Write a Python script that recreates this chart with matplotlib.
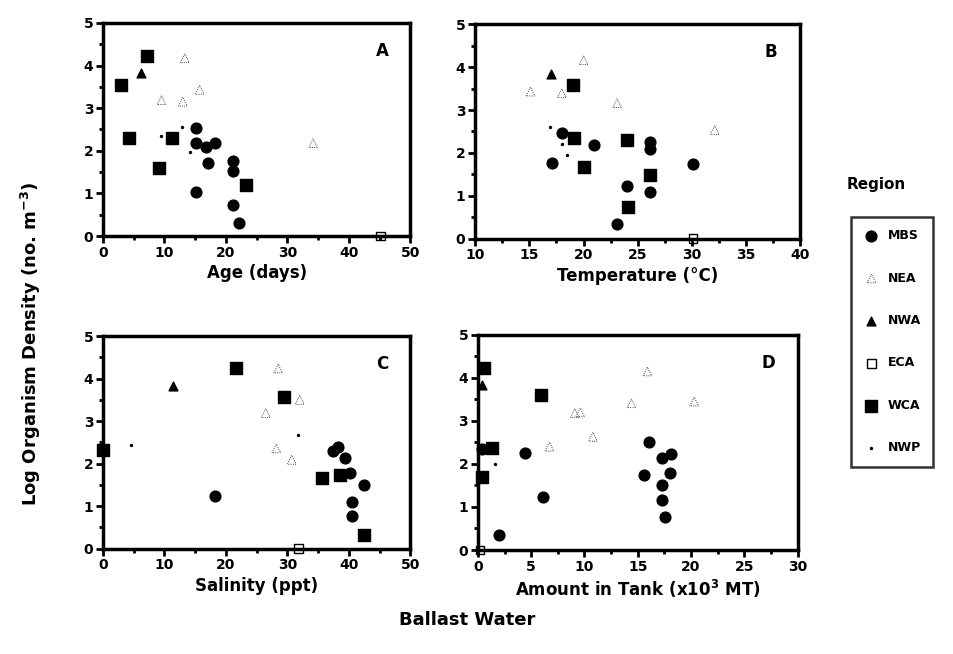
import matplotlib.pyplot as plt
from matplotlib.ticker import MultipleLocator

plt.rcParams['font.family'] = ['DejaVu Sans']
plt.rcParams['font.weight'] = 'bold'

# panel A: age (days)
age_mbs_x = [15.2, 15.1, 16.8, 18.2, 17.1, 21.2, 21.2, 15.1, 21.2, 22.1]
age_mbs_y = [2.53, 2.18, 2.10, 2.19, 1.71, 1.75, 1.52, 1.04, 0.73, 0.30]
age_nea_x = [13.3, 15.7, 9.5, 13.0, 34.2]
age_nea_y = [4.17, 3.43, 3.19, 3.15, 2.18]
age_nwa_x = [6.1]
age_nwa_y = [3.82]
age_eca_x = [45.1]
age_eca_y = [0.0]
age_wca_x = [7.1, 3.0, 4.2, 11.2, 9.1, 23.2]
age_wca_y = [4.23, 3.54, 2.29, 2.29, 1.59, 1.20]
age_nwp_x = [9.5, 12.8, 14.2]
age_nwp_y = [2.35, 2.57, 1.98]

# panel B: temperature (C)
tmp_mbs_x = [18.0, 21.0, 26.1, 26.1, 17.1, 30.1, 24.0, 26.1, 23.1]
tmp_mbs_y = [2.46, 2.19, 2.26, 2.10, 1.76, 1.74, 1.23, 1.10, 0.35]
tmp_nea_x = [20.0, 15.1, 18.0, 23.1, 32.1]
tmp_nea_y = [4.16, 3.43, 3.39, 3.16, 2.53]
tmp_nwa_x = [17.0]
tmp_nwa_y = [3.85]
tmp_eca_x = [30.1]
tmp_eca_y = [0.0]
tmp_wca_x = [19.0, 19.1, 24.0, 20.0, 26.1, 24.1]
tmp_wca_y = [3.58, 2.34, 2.30, 1.68, 1.49, 0.75]
tmp_nwp_x = [16.9, 18.0, 18.5]
tmp_nwp_y = [2.61, 2.20, 1.95]

# panel C: salinity (ppt)
sal_mbs_x = [38.3, 37.5, 39.4, 40.2, 42.4, 40.5, 40.5, 18.3]
sal_mbs_y = [2.40, 2.30, 2.13, 1.78, 1.50, 1.11, 0.76, 1.23]
sal_nea_x = [28.5, 26.5, 32.0, 28.2, 30.7]
sal_nea_y = [4.24, 3.19, 3.50, 2.36, 2.09]
sal_nwa_x = [11.4]
sal_nwa_y = [3.83]
sal_eca_x = [31.8]
sal_eca_y = [0.0]
sal_wca_x = [21.7, 29.4, 35.6, 38.6, 42.4, 0.0]
sal_wca_y = [4.24, 3.58, 1.66, 1.74, 0.33, 2.32]
sal_nwp_x = [4.6, 31.7]
sal_nwp_y = [2.44, 2.68]

# panel D: amount in tank (x10^3 MT)
amt_mbs_x = [4.4, 6.1, 16.1, 18.1, 17.3, 15.6, 18.0, 17.3, 17.3, 17.6, 2.0, 0.4]
amt_mbs_y = [2.25, 1.24, 2.52, 2.23, 2.13, 1.74, 1.78, 1.51, 1.16, 0.77, 0.35, 2.35]
amt_nea_x = [15.9, 14.4, 20.3, 9.1, 9.6, 6.7, 10.8]
amt_nea_y = [4.15, 3.41, 3.45, 3.18, 3.20, 2.40, 2.63]
amt_nwa_x = [0.4]
amt_nwa_y = [3.84]
amt_eca_x = [0.2]
amt_eca_y = [0.0]
amt_wca_x = [5.9, 0.6, 1.3, 0.4]
amt_wca_y = [3.60, 4.23, 2.37, 1.70]
amt_nwp_x = [1.6]
amt_nwp_y = [2.0]

regions = ['MBS', 'NEA', 'NWA', 'ECA', 'WCA', 'NWP']
styles = {
    'MBS': dict(marker='o', s=60, c='black', edgecolors='black'),
    'NEA': dict(marker='^', s=40, facecolors='none', edgecolors='black', linewidths=0.6, linestyles=':'),
    'NWA': dict(marker='^', s=40, c='black'),
    'ECA': dict(marker='s', s=40, facecolors='none', edgecolors='black', linewidths=1.0),
    'WCA': dict(marker='s', s=80, c='black'),
    'NWP': dict(marker='.', s=8, c='black'),
}

panels = [
    ('A', 'Age (days)', (0, 50), 10, 5, [0.108, 0.639, 0.322, 0.326],
     [(age_mbs_x, age_mbs_y), (age_nea_x, age_nea_y), (age_nwa_x, age_nwa_y),
      (age_eca_x, age_eca_y), (age_wca_x, age_wca_y), (age_nwp_x, age_nwp_y)]),
    ('B', 'Temperature (°C)', (10, 40), 5, 2.5, [0.498, 0.635, 0.341, 0.328],
     [(tmp_mbs_x, tmp_mbs_y), (tmp_nea_x, tmp_nea_y), (tmp_nwa_x, tmp_nwa_y),
      (tmp_eca_x, tmp_eca_y), (tmp_wca_x, tmp_wca_y), (tmp_nwp_x, tmp_nwp_y)]),
    ('C', 'Salinity (ppt)', (0, 50), 10, 5, [0.108, 0.161, 0.322, 0.325],
     [(sal_mbs_x, sal_mbs_y), (sal_nea_x, sal_nea_y), (sal_nwa_x, sal_nwa_y),
      (sal_eca_x, sal_eca_y), (sal_wca_x, sal_wca_y), (sal_nwp_x, sal_nwp_y)]),
    ('D', 'Amount in Tank (x10$^3$ MT)', (0, 30), 5, 2.5, [0.501, 0.159, 0.335, 0.329],
     [(amt_mbs_x, amt_mbs_y), (amt_nea_x, amt_nea_y), (amt_nwa_x, amt_nwa_y),
      (amt_eca_x, amt_eca_y), (amt_wca_x, amt_wca_y), (amt_nwp_x, amt_nwp_y)]),
]

fig = plt.figure(figsize=(9.54, 6.54), dpi=100)

for letter, xlabel, xlim, major, minor, pos, series in panels:
    ax = fig.add_axes(pos)
    for name, (xs, ys) in zip(regions, series):
        ax.scatter(xs, ys, label=name, clip_on=False, zorder=3, **styles[name])
    ax.set_xlim(*xlim)
    ax.set_ylim(0, 5)
    ax.xaxis.set_major_locator(MultipleLocator(major))
    ax.xaxis.set_minor_locator(MultipleLocator(minor))
    ax.yaxis.set_major_locator(MultipleLocator(1))
    ax.yaxis.set_minor_locator(MultipleLocator(0.5))
    ax.tick_params(which='major', direction='out', length=5, width=2, labelsize=10, pad=2)
    ax.tick_params(which='minor', direction='out', length=3, width=2)
    for sp in ax.spines.values():
        sp.set_linewidth(2.5)
    ax.set_xlabel(xlabel, fontsize=12, fontweight='bold', labelpad=3)
    ax.text(0.91, 0.87, letter, transform=ax.transAxes, fontsize=12,
            fontweight='bold', ha='center', va='center')
    if letter == 'A':
        handles, labels = ax.get_legend_handles_labels()

fig.text(0.032, 0.475, 'Log Organism Density (no. m$^{-3}$)', rotation=90,
         ha='center', va='center', fontsize=13, fontweight='bold')
fig.text(0.49, 0.052, 'Ballast Water', ha='center', va='center',
         fontsize=13, fontweight='bold')

fig.text(0.918, 0.718, 'Region', ha='center', va='center', fontsize=11, fontweight='bold')
leg = fig.legend(handles, labels, loc='upper left', bbox_to_anchor=(0.886, 0.678),
                 frameon=True, fancybox=False, edgecolor='black', fontsize=9,
                 labelspacing=2.35, handletextpad=0.7, borderpad=1.0, handlelength=1.2,
                 scatterpoints=1)
leg.get_frame().set_linewidth(1.8)

fig.savefig('out.png', dpi=100)
